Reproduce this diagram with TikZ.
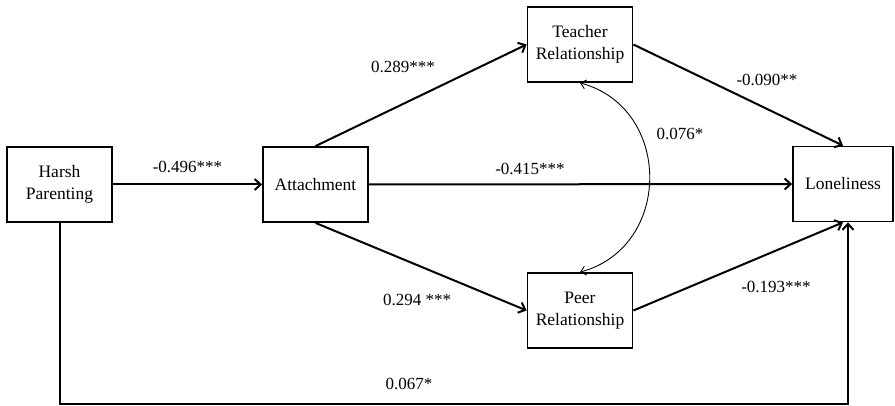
\documentclass[tikz,border=0pt]{standalone}
\usepackage{fontspec}
\setmainfont{Liberation Serif}
\usetikzlibrary{arrows.meta,positioning,calc}
\tikzset{
    var/.style={draw, line width=1.8pt, minimum width=105pt, minimum height=75pt,
        align=center, inner sep=0pt, font=\fontsize{17.5}{22}\selectfont},
    link/.style={line width=2pt, -{Straight Barb[length=6pt,width=11pt]}},
    corr/.style={line width=0.9pt, {Straight Barb[length=5pt,width=9pt]}-{Straight Barb[length=5pt,width=9pt]}},
    coef/.style={font=\fontsize{17}{20}\selectfont}
}
\begin{document}
\begin{tikzpicture}[x=1pt, y=-1pt]
        \useasboundingbox (0,0) rectangle (895,406);

        % Variables
        \node[var] (harsh) at (59.5, 184.5) {Harsh\\Parenting};
        \node[var] (attach) at (315.5, 184.5) {Attachment};
        \node[var] (teacher) at (580, 44.5) {Teacher\\Relationship};
        \node[var] (peer) at (580, 310.5) {Peer\\Relationship};
        \node[var, minimum width=100pt] (lonely) at (843, 184) {Loneliness};

        % Paths
        \draw[link] (harsh.east) -- (attach.west);
        \draw[link] (attach.north) -- (teacher.west);
        \draw[link] (attach.south) -- (peer.west);
        \draw[link] (attach.east) -- (lonely.west);
        \draw[link] (teacher.east) -- (lonely.north);
        \draw[link] (peer.east) -- (lonely.south);
        \coordinate (bend) at (848, 404);
        \draw[link] (harsh.south) |- (bend) -- (bend |- lonely.south);

        % Covariance
        \draw[corr] (teacher.south) to[out=-15, in=15, looseness=1.3] (peer.north);

        % Coefficients
        \node[coef] (c1) at (187.5, 167) {-0.496***};
        \node[coef] (c2) at (403, 67) {0.289***};
        \node[coef] (c3) at (530, 169) {-0.415***};
        \node[coef] (c4) at (680, 134) {0.076*};
        \node[coef] (c5) at (767, 80) {-0.090**};
        \node[coef] (c6) at (417, 300) {0.294 ***};
        \node[coef] (c7) at (776, 287) {-0.193***};
        \node[coef] (c8) at (409, 384) {0.067*};
    \end{tikzpicture}
\end{document}
